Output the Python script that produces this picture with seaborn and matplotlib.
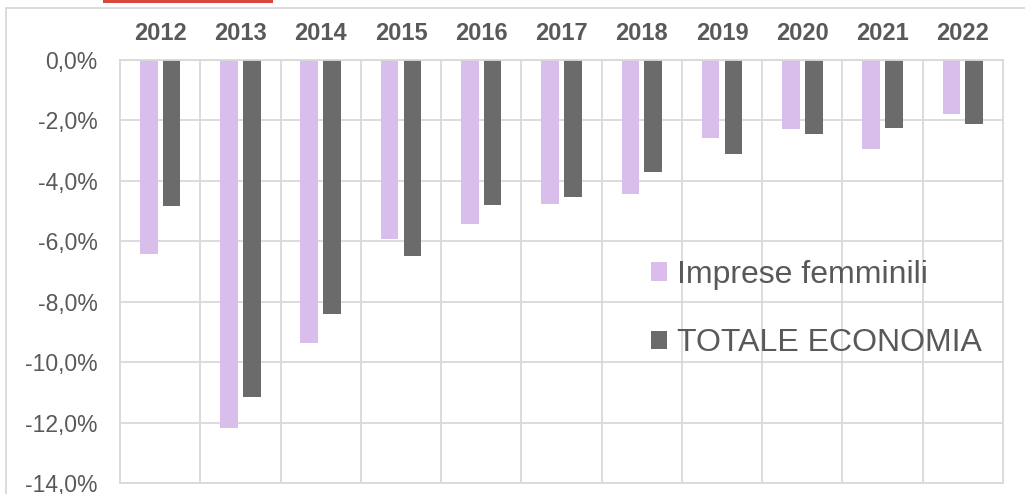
import matplotlib
matplotlib.use("Agg")
import matplotlib.pyplot as plt
import seaborn as sns
import pandas as pd
from matplotlib.lines import Line2D
from matplotlib.patches import Rectangle, Patch

# Data (percent)
years = ["2012", "2013", "2014", "2015", "2016", "2017", "2018", "2019", "2020", "2021", "2022"]
imprese_femminili = [-6.42, -12.19, -9.37, -5.93, -5.43, -4.77, -4.44, -2.59, -2.28, -2.96, -1.79]
totale_economia = [-4.83, -11.16, -8.41, -6.49, -4.80, -4.54, -3.71, -3.10, -2.44, -2.25, -2.12]
series_names = ["Imprese femminili", "TOTALE ECONOMIA"]
colors = ["#D9BEEC", "#6B6B6B"]
y_ticks = [0, -2, -4, -6, -8, -10, -12, -14]

df = pd.DataFrame({
    "anno": years * 2,
    "serie": [series_names[0]] * len(years) + [series_names[1]] * len(years),
    "valore": imprese_femminili + totale_economia,
})

sns.set_style("white")
plt.rcParams["font.family"] = ["Liberation Sans", "DejaVu Sans"]

W, H = 1025, 494
fig = plt.figure(figsize=(W / 100, H / 100), dpi=100)
ax = fig.add_axes([120 / W, 1 - 483 / H, (1003 - 120) / W, (483 - 60) / H])

sns.barplot(data=df, x="anno", y="valore", hue="serie", hue_order=series_names,
            palette=colors, width=0.57, gap=0.23, ax=ax, legend=False,
            saturation=1, edgecolor="none")

grid_c = "#D9D9D9"
txt_c = "#595959"

ax.set_ylim(-14, 0)
ax.set_xlim(-0.5, len(years) - 0.5)
ax.set_yticks(y_ticks)
ax.set_yticklabels([f"{v:.1f}%".replace(".", ",") for v in y_ticks])
ax.set_xticks(range(len(years)))
ax.set_xticklabels(years)
ax.xaxis.tick_top()
ax.set_xticks([i + 0.5 for i in range(len(years) - 1)], minor=True)
ax.set_xlabel("")
ax.set_ylabel("")

ax.grid(False)
ax.yaxis.grid(True, color=grid_c, linewidth=1.3)
ax.xaxis.grid(True, which="minor", color=grid_c, linewidth=1.3)
ax.set_axisbelow(True)
for s in ax.spines.values():
    s.set_visible(True)
    s.set_color(grid_c)
    s.set_linewidth(1.3)

ax.tick_params(axis="x", which="both", length=0, pad=11, labelsize=17, labelcolor=txt_c)
ax.tick_params(axis="y", length=0, pad=16, labelsize=16.5, labelcolor=txt_c)
for lbl in ax.get_xticklabels():
    lbl.set_fontweight("bold")

handles = [Patch(facecolor=c, edgecolor="none") for c in colors]
fig.legend(handles, series_names, loc="center left",
           bbox_to_anchor=(651 / W, 1 - 309 / H), frameon=False,
           fontsize=23, handlelength=0.5, handleheight=0.5,
           handletextpad=0.3, labelspacing=1.2, borderpad=0, borderaxespad=0,
           labelcolor=txt_c)

# outer chart frame and the clipped red shape at the top
fig.add_artist(Line2D([6 / W, 6 / W], [0, 1 - 8 / H], transform=fig.transFigure,
                      color="#D9D9D9", linewidth=1.3))
fig.add_artist(Line2D([6 / W, 1], [1 - 8 / H, 1 - 8 / H], transform=fig.transFigure,
                      color="#D9D9D9", linewidth=1.3))
fig.add_artist(Rectangle((103 / W, 1 - 3 / H), 170 / W, 3 / H, transform=fig.transFigure,
                         facecolor="#D8483A", edgecolor="none"))

fig.savefig("out.png", dpi=100)
